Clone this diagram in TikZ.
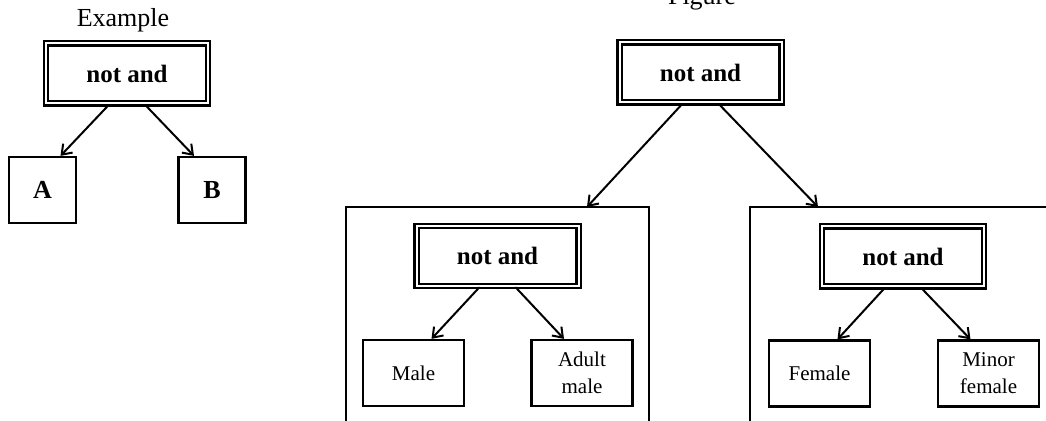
\documentclass[tikz,border=0pt]{standalone}
\usepackage{fontspec}
\setmainfont{Liberation Serif}
\usetikzlibrary{arrows.meta}

\begin{document}
\begin{tikzpicture}[x=0.5pt,y=0.5pt,
    notand/.style={draw,double,double distance=1pt,line width=1.2pt,
                   minimum width=81pt,minimum height=30pt,
                   font=\fontsize{12.5}{14}\selectfont\bfseries},
    leaf/.style={draw,line width=1.1pt,minimum width=50.5pt,minimum height=33pt,
                 align=center,font=\fontsize{10.5}{13.5}\selectfont},
    letter/.style={draw,line width=1.1pt,minimum width=33.5pt,minimum height=33pt,
                   font=\fontsize{13}{15}\selectfont\bfseries},
    arr/.style={-{Straight Barb[length=4.5pt,width=6.5pt]},line width=1pt},
    title/.style={anchor=base,font=\fontsize{13}{15}\selectfont}]
  \useasboundingbox (0,0) rectangle (1046,421);

  \node[title] (extitle) at (123,394) {Example};
  \node[notand] (exnot) at (127,347.5) {not and};
  \node[letter] (a) at (42.5,231) {A};
  \node[letter] (b) at (212,231) {B};
  \draw[arr] ([xshift=-9pt]exnot.south) -- ([xshift=9pt]a.north);
  \draw[arr] ([xshift=9pt]exnot.south) -- ([xshift=-9pt]b.north);

  \node[title] (figtitle) at (702,416) {Figure};
  \node[notand] (topnot) at (700.5,348.5) {not and};
  \draw[line width=1.1pt] (346,0) |- (649,214) -- (649,0);
  \draw[line width=1.1pt] (750,0) |- (1046,214);
  \coordinate (lpanel) at (587,214);
  \coordinate (rpanel) at (818,214);
  \draw[arr] ([xshift=-9pt]topnot.south) -- (lpanel);
  \draw[arr] ([xshift=9pt]topnot.south) -- (rpanel);

  \node[notand] (lnot) at (497.5,165) {not and};
  \node[leaf] (male) at (413.5,48) {Male};
  \node[leaf] (adult) at (582,48) {Adult\\male};
  \draw[arr] ([xshift=-9pt]lnot.south) -- ([xshift=9pt]male.north);
  \draw[arr] ([xshift=9pt]lnot.south) -- ([xshift=-9pt]adult.north);

  \node[notand] (rnot) at (903,164.5) {not and};
  \node[leaf] (female) at (819.5,47.5) {Female};
  \node[leaf] (minor) at (988.5,47.5) {Minor\\female};
  \draw[arr] ([xshift=-9pt]rnot.south) -- ([xshift=9pt]female.north);
  \draw[arr] ([xshift=9pt]rnot.south) -- ([xshift=-9pt]minor.north);
\end{tikzpicture}
\end{document}
